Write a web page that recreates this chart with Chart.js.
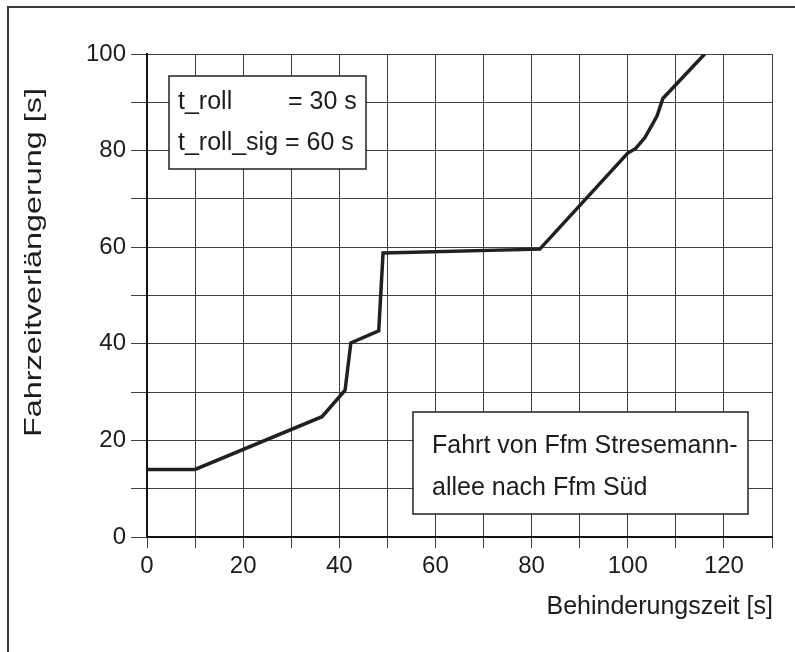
<!DOCTYPE html>
<html><head><meta charset="utf-8">
<script src="https://cdn.jsdelivr.net/npm/chart.js@4"></script>
<style>html,body{margin:0;padding:0;background:#fff;}#wrap{width:795px;height:652px;}</style>
</head><body><div id="wrap"><canvas id="c" width="795" height="652"></canvas></div>
<script>
const behinderungszeit = [0, 10, 36.4, 41.2, 42.4, 48.2, 49.1, 81.7, 100, 101.6, 103.5, 105, 106.1, 107.3, 116];
const fahrzeitverlaengerung = [14, 14, 24.9, 30.4, 40.2, 42.7, 58.8, 59.6, 79.5, 80.4, 82.6, 85.2, 87.2, 90.8, 100];
const xTickLabels = [0, 20, 40, 60, 80, 100, 120];
const yTickLabels = [0, 20, 40, 60, 80, 100];
const xAxisTitle = 'Behinderungszeit [s]';
const yAxisTitle = 'Fahrzeitverlängerung [s]';
const paramNames = ['t_roll', 't_roll_sig = 60 s'];
const paramValues = ['= 30 s', ''];
const routeLines = ['Fahrt von Ffm Stresemann-', 'allee nach Ffm Süd'];

const FONT = '"Liberation Sans", Arial, sans-serif';
const TXT = '#1e1b1c';

const overlay = {
  id: 'overlay',
  beforeDraw(chart) {
    const ctx = chart.ctx;
    ctx.save();
    ctx.fillStyle = '#fff';
    ctx.fillRect(0, 0, chart.width, chart.height);
    ctx.strokeStyle = '#3a3a3a';
    ctx.lineWidth = 2;
    ctx.strokeRect(8, 7, 800, 660);
    ctx.restore();
  },
  afterDraw(chart) {
    const ctx = chart.ctx;
    ctx.save();
    ctx.fillStyle = TXT;
    ctx.font = '25px ' + FONT;
    ctx.textAlign = 'right';
    ctx.textBaseline = 'alphabetic';
    ctx.fillText(xAxisTitle, 773, 614);
    // y title (stretched along its length as in the reference)
    ctx.save();
    ctx.font = '24px ' + FONT;
    const w = ctx.measureText(yAxisTitle).width;
    ctx.translate(41, 262.5);
    ctx.rotate(-Math.PI / 2);
    ctx.scale(349 / w, 1);
    ctx.textAlign = 'center';
    ctx.fillText(yAxisTitle, 0, 0);
    ctx.restore();
    // parameter box
    ctx.fillStyle = '#fff';
    ctx.fillRect(169, 76, 197, 93);
    ctx.strokeStyle = '#231f20';
    ctx.lineWidth = 1.5;
    ctx.strokeRect(169, 76, 197, 93);
    ctx.fillStyle = TXT;
    ctx.textAlign = 'left';
    ctx.fillText(paramNames[0], 178, 109);
    ctx.fillText(paramValues[0], 288, 109);
    ctx.fillText(paramNames[1], 178, 150);
    // route box
    ctx.fillStyle = '#fff';
    ctx.fillRect(413, 412, 335, 102);
    ctx.strokeRect(413, 412, 335, 102);
    ctx.fillStyle = TXT;
    ctx.fillText(routeLines[0], 432, 453);
    ctx.fillText(routeLines[1], 432, 495);
    ctx.restore();
  }
};

new Chart(document.getElementById('c'), {
  type: 'line',
  data: {
    datasets: [{
      data: behinderungszeit.map((x, i) => ({ x: x, y: fahrzeitverlaengerung[i] })),
      borderColor: '#231f20',
      borderWidth: 3.5,
      pointRadius: 0,
      tension: 0,
      fill: false,
      borderJoinStyle: 'miter'
    }]
  },
  options: {
    responsive: false,
    animation: false,
    devicePixelRatio: 1,
    layout: { padding: { top: 54, right: 23, bottom: 0, left: 0 } },
    plugins: { legend: { display: false }, tooltip: { enabled: false } },
    scales: {
      x: {
        type: 'linear', min: 0, max: 130,
        afterFit: s => { s.height = 115; },
        ticks: {
          stepSize: 10, autoSkip: false, maxRotation: 0, padding: 4,
          color: TXT, font: { family: FONT, size: 24 },
          callback: v => xTickLabels.includes(v) ? String(v) : ''
        },
        grid: { color: '#404040', lineWidth: 1, tickLength: 11 },
        border: { color: '#111', width: 2 }
      },
      y: {
        type: 'linear', min: 0, max: 100,
        afterFit: s => { s.width = 147; },
        ticks: {
          stepSize: 10, autoSkip: false, padding: 5,
          color: TXT, font: { family: FONT, size: 24 },
          callback: v => yTickLabels.includes(v) ? String(v) : ''
        },
        grid: { color: '#404040', lineWidth: 1, tickLength: 16 },
        border: { color: '#111', width: 2 }
      }
    }
  },
  plugins: [overlay]
});
</script></body></html>
